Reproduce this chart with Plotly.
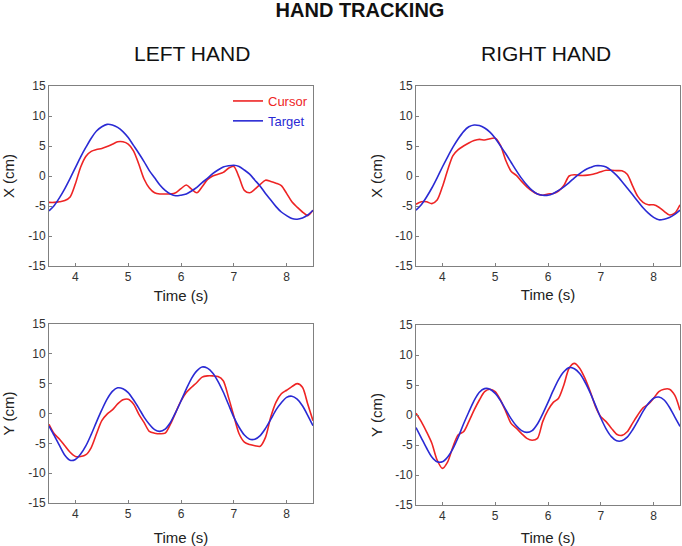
"""Hand tracking figure: cursor vs target, left and right hand, X and Y."""

import plotly.graph_objects as go

COLORS = {
    "cursor": "#ee2424",
    "target": "#2a2ad4",
    "axis": "#808080",
    "text": "#222222",
}
FONT = "Liberation Sans, Arial, sans-serif"

TIME_S = [
    3.5, 3.6, 3.7, 3.8, 3.9, 4.0, 4.1, 4.2, 4.3, 4.4,
    4.5, 4.6, 4.7, 4.8, 4.9, 5.0, 5.1, 5.2, 5.3, 5.4,
    5.5, 5.6, 5.7, 5.8, 5.9, 6.0, 6.1, 6.2, 6.3, 6.4,
    6.5, 6.6, 6.7, 6.8, 6.9, 7.0, 7.1, 7.2, 7.3, 7.4,
    7.5, 7.6, 7.7, 7.8, 7.9, 8.0, 8.1, 8.2, 8.3, 8.4,
    8.5,
]

# left hand, X
left_x_target = [
    -5.8, -4.9, -3.6, -2.1, -0.4, 1.4, 3.2, 4.8, 6.3, 7.5,
    8.2, 8.6, 8.5, 8.1, 7.4, 6.4, 5.1, 3.8, 2.4, 0.9,
    -0.3, -1.5, -2.4, -3.0, -3.3, -3.2, -3.0, -2.5, -1.9, -1.1,
    -0.4, 0.4, 1.0, 1.5, 1.7, 1.8, 1.6, 1.0, 0.3, -0.7,
    -1.7, -2.9, -4.0, -5.1, -6.0, -6.6, -7.1, -7.2, -7.0, -6.5,
    -5.7,
]
left_x_cursor = [
    -4.4, -4.4, -4.3, -4.1, -3.5, -1.3, 1.5, 3.3, 4.1, 4.4,
    4.6, 4.9, 5.3, 5.7, 5.7, 5.3, 4.2, 2.0, -0.5, -2.0,
    -2.8, -3.0, -3.0, -3.0, -2.8, -2.1, -1.5, -2.2, -2.8, -1.8,
    -0.6, 0.0, 0.3, 0.6, 1.3, 1.6, -0.2, -2.4, -2.8, -2.2,
    -1.4, -0.7, -0.9, -1.2, -1.6, -2.9, -4.3, -5.2, -6.0, -6.6,
    -5.7,
]

# right hand, X
right_x_target = [
    -5.7, -4.8, -3.5, -2.0, -0.3, 1.5, 3.2, 4.8, 6.2, 7.4,
    8.2, 8.5, 8.4, 8.0, 7.3, 6.3, 5.0, 3.7, 2.3, 0.9,
    -0.4, -1.5, -2.4, -3.0, -3.2, -3.2, -2.9, -2.4, -1.8, -1.1,
    -0.3, 0.4, 1.0, 1.4, 1.7, 1.7, 1.5, 0.9, 0.1, -0.9,
    -2.0, -3.1, -4.2, -5.3, -6.2, -6.9, -7.3, -7.2, -6.9, -6.4,
    -5.7,
]
right_x_cursor = [
    -4.7, -4.3, -4.3, -4.6, -4.0, -1.8, 1.0, 3.4, 4.4, 5.0,
    5.5, 5.9, 6.1, 6.0, 6.2, 6.3, 5.1, 2.6, 0.8, 0.1,
    -0.9, -1.8, -2.5, -3.0, -3.2, -3.0, -2.9, -2.5, -1.6, 0.0,
    0.2, 0.1, 0.1, 0.2, 0.4, 0.7, 0.95, 0.95, 0.9, 0.86,
    0.3, -1.6, -3.4, -4.4, -4.8, -4.8, -5.2, -5.9, -6.5, -6.2,
    -4.8,
]

# left hand, Y
left_y_target = [
    -2.1, -3.7, -5.4, -7.0, -7.85, -7.7, -6.8, -5.4, -3.5, -1.4,
    0.6, 2.4, 3.7, 4.3, 4.15, 3.5, 2.3, 0.9, -0.6, -1.8,
    -2.7, -3.0, -2.6, -1.5, 0.2, 2.1, 4.1, 5.9, 7.15, 7.8,
    7.6, 6.8, 5.4, 3.6, 1.5, -0.6, -2.3, -3.6, -4.3, -4.3,
    -3.7, -2.5, -1.0, 0.6, 1.8, 2.7, 2.9, 2.4, 1.3, -0.3,
    -2.05,
]
left_y_cursor = [
    -1.8, -3.4, -4.3, -5.4, -6.5, -7.2, -7.2, -6.9, -5.7, -3.4,
    -1.2, -0.1, 0.6, 1.6, 2.3, 2.4, 1.6, -0.1, -1.5, -3.0,
    -3.3, -3.4, -3.3, -1.8, 0.2, 2.1, 3.5, 4.4, 5.2, 6.1,
    6.3, 6.3, 6.2, 5.5, 2.7, -0.4, -3.4, -4.8, -5.2, -5.4,
    -5.5, -4.0, -0.6, 1.9, 3.3, 3.9, 4.5, 5.0, 4.4, 1.6,
    -1.2,
]

# right hand, Y
right_y_target = [
    -2.1, -3.8, -5.5, -7.0, -7.8, -7.8, -7.0, -5.6, -3.7, -1.5,
    0.5, 2.4, 3.8, 4.4, 4.3, 3.6, 2.4, 0.9, -0.6, -1.8,
    -2.6, -2.9, -2.6, -1.5, 0.2, 2.1, 4.1, 5.9, 7.2, 7.9,
    7.7, 6.9, 5.5, 3.7, 1.6, -0.5, -2.3, -3.6, -4.3, -4.3,
    -3.7, -2.5, -1.0, 0.6, 1.9, 2.8, 3.0, 2.5, 1.3, -0.3,
    -1.9,
]
right_y_cursor = [
    0.3, -1.1, -2.8, -4.7, -7.5, -8.9, -7.8, -5.3, -3.3, -2.8,
    -1.1, 0.8, 2.5, 3.9, 4.3, 3.9, 2.5, 0.6, -1.4, -2.2,
    -3.1, -3.9, -4.2, -3.9, -1.1, 0.8, 2.1, 2.8, 5.0, 7.8,
    8.6, 7.8, 6.1, 3.9, 1.4, -0.3, -1.1, -2.2, -3.2, -3.4,
    -2.8, -1.4, 0.0, 1.2, 1.8, 2.8, 3.9, 4.3, 4.3, 3.3,
    0.8,
]

Y_TICKS = [-15, -10, -5, 0, 5, 10, 15]
Y_TICK_TEXT = ["-15", "-10", "-5", "0", "5", "10", "15"]
X_TICKS = [4, 5, 6, 7, 8]
X_TICK_TEXT = ["4", "5", "6", "7", "8"]

W, H = 682, 546

# axis suffix, box in px (left, right, top, bottom), data, y title, title standoffs (x, y)
PANELS = [
    ("", (49, 313, 86, 266), left_x_cursor, left_x_target, "X (cm)", (7, 12)),
    ("2", (416, 680, 86, 266), right_x_cursor, right_x_target, "X (cm)", (6, 9)),
    ("3", (49, 313, 324, 503), left_y_cursor, left_y_target, "Y (cm)", (12, 12)),
    ("4", (416, 680, 325, 505), right_y_cursor, right_y_target, "Y (cm)", (10, 9)),
]

fig = go.Figure()
layout = {}
for i, (suffix, (l, r, t, b), cursor, target, ytitle, (xso, yso)) in enumerate(PANELS):
    fig.add_trace(go.Scatter(
        x=TIME_S, y=cursor, mode="lines",
        name=f'<span style="color:{COLORS["cursor"]}">Cursor</span>',
        line=dict(color=COLORS["cursor"], width=1.6, shape="spline", smoothing=0.8),
        xaxis="x" + suffix, yaxis="y" + suffix, showlegend=(i == 0),
    ))
    fig.add_trace(go.Scatter(
        x=TIME_S, y=target, mode="lines",
        name=f'<span style="color:{COLORS["target"]}">Target</span>',
        line=dict(color=COLORS["target"], width=1.6, shape="spline", smoothing=0.8),
        xaxis="x" + suffix, yaxis="y" + suffix, showlegend=(i == 0),
    ))
    common = dict(
        showline=True, mirror=True, linecolor=COLORS["axis"], linewidth=1,
        ticks="inside", ticklen=3, tickcolor=COLORS["axis"],
        showgrid=False, zeroline=False, automargin=False,
        tickfont=dict(family=FONT, size=12, color="#333333"),
    )
    layout["xaxis" + suffix] = dict(
        common, domain=[l / W, r / W], range=[3.5, 8.5],
        tickvals=X_TICKS, ticktext=X_TICK_TEXT,
        anchor="y" + suffix,
        title=dict(text="Time (s)", standoff=xso,
                   font=dict(family=FONT, size=15, color=COLORS["text"])),
    )
    layout["yaxis" + suffix] = dict(
        common, domain=[1 - b / H, 1 - t / H], range=[-15, 15],
        tickvals=Y_TICKS, ticktext=Y_TICK_TEXT,
        anchor="x" + suffix,
        title=dict(text=ytitle, standoff=yso,
                   font=dict(family=FONT, size=15, color=COLORS["text"])),
    )

fig.update_layout(**layout)
fig.update_layout(
    template="none", width=W, height=H,
    margin=dict(l=0, r=0, t=0, b=0),
    paper_bgcolor="white", plot_bgcolor="white",
    font=dict(family=FONT, color=COLORS["text"]),
    title=dict(text="<b>HAND TRACKING</b>", x=360 / W, xanchor="center",
               y=1 - 10 / H, yanchor="middle",
               font=dict(family=FONT, size=20, color="#111111")),
    legend=dict(x=228 / W, y=1 - 86 / H, xanchor="left", yanchor="top",
                bgcolor="rgba(0,0,0,0)", borderwidth=0,
                font=dict(family=FONT, size=13),
                tracegroupgap=0),
    annotations=[
        dict(text="LEFT HAND", x=192 / W, y=1 - 54 / H, xref="paper", yref="paper",
             showarrow=False, xanchor="center", yanchor="middle",
             font=dict(family=FONT, size=21, color="#111111")),
        dict(text="RIGHT HAND", x=546 / W, y=1 - 54 / H, xref="paper", yref="paper",
             showarrow=False, xanchor="center", yanchor="middle",
             font=dict(family=FONT, size=21, color="#111111")),
    ],
)

fig.write_html(
    "out.html",
    config={"displayModeBar": False},
    post_script="document.body.style.margin='0px';",
)
